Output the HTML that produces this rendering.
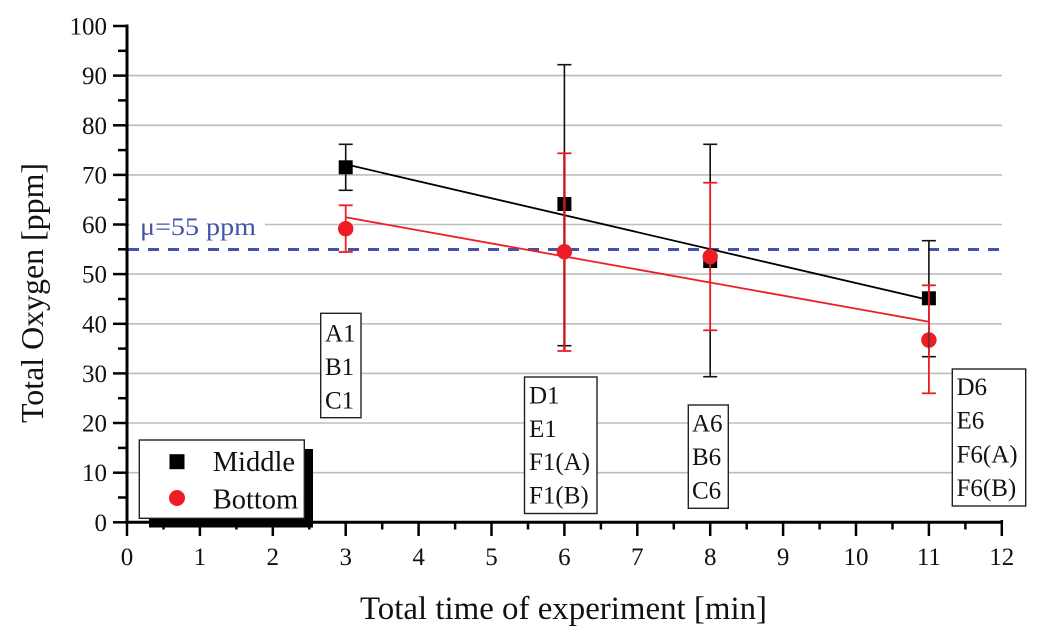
<!DOCTYPE html>
<html>
<head>
<meta charset="utf-8">
<style>
  html, body { margin:0; padding:0; background:#fff; }
  svg { display:block; }
  text { font-family: "Liberation Serif", "DejaVu Serif", serif; fill:#111; }
</style>
</head>
<body>
<svg width="1047" height="631" viewBox="0 0 1047 631" xmlns="http://www.w3.org/2000/svg">
  <rect x="0" y="0" width="1047" height="631" fill="#fff"/>

  <!-- gridlines -->
  <g stroke="#bdbdbd" stroke-width="1.6">
    <line x1="127" y1="472.7" x2="1002" y2="472.7"/>
    <line x1="127" y1="423.0" x2="1002" y2="423.0"/>
    <line x1="127" y1="373.4" x2="1002" y2="373.4"/>
    <line x1="127" y1="323.8" x2="1002" y2="323.8"/>
    <line x1="127" y1="274.1" x2="1002" y2="274.1"/>
    <line x1="127" y1="224.5" x2="1002" y2="224.5"/>
    <line x1="127" y1="174.9" x2="1002" y2="174.9"/>
    <line x1="127" y1="125.3" x2="1002" y2="125.3"/>
    <line x1="127" y1="75.6" x2="1002" y2="75.6"/>
  </g>

  <!-- mu label with white background -->
  <rect x="130" y="212" width="135" height="30" fill="#fff"/>
  <text x="140" y="235" font-size="25" textLength="116" lengthAdjust="spacingAndGlyphs" style="fill:#4352ad">μ=55 ppm</text>

  <!-- dashed mean line -->
  <line x1="128" y1="249.5" x2="1006" y2="249.5" stroke="#4352ad" stroke-width="3" stroke-dasharray="11 9"/>

  <!-- fit lines -->
  <line x1="345.7" y1="164.3" x2="928.9" y2="300" stroke="#000" stroke-width="1.8"/>
  <line x1="345.7" y1="217.3" x2="928.9" y2="321.7" stroke="#ee1c24" stroke-width="1.8"/>

  <!-- black error bars -->
  <g stroke="#111" stroke-width="1.6">
    <line x1="345.7" y1="144.3" x2="345.7" y2="190.3"/>
    <line x1="338.7" y1="144.3" x2="352.7" y2="144.3"/>
    <line x1="338.7" y1="190.3" x2="352.7" y2="190.3"/>

    <line x1="564.4" y1="64.7" x2="564.4" y2="345.7"/>
    <line x1="557.4" y1="64.7" x2="571.4" y2="64.7"/>
    <line x1="557.4" y1="345.7" x2="571.4" y2="345.7"/>

    <line x1="710.2" y1="144.3" x2="710.2" y2="376.7"/>
    <line x1="703.2" y1="144.3" x2="717.2" y2="144.3"/>
    <line x1="703.2" y1="376.7" x2="717.2" y2="376.7"/>

    <line x1="928.9" y1="240.7" x2="928.9" y2="356.7"/>
    <line x1="921.9" y1="240.7" x2="935.9" y2="240.7"/>
    <line x1="921.9" y1="356.7" x2="935.9" y2="356.7"/>
  </g>

  <!-- black squares -->
  <g fill="#000">
    <rect x="338.7" y="160.3" width="14" height="14"/>
    <rect x="557.4" y="197" width="14" height="14"/>
    <rect x="703.2" y="254" width="14" height="14"/>
    <rect x="921.9" y="291.3" width="14" height="14"/>
  </g>

  <!-- red error bars -->
  <g stroke="#ee1c24" stroke-width="1.8">
    <line x1="345.7" y1="205.3" x2="345.7" y2="252"/>
    <line x1="338.7" y1="205.3" x2="352.7" y2="205.3"/>
    <line x1="338.7" y1="252" x2="352.7" y2="252"/>

    <line x1="564.4" y1="153.3" x2="564.4" y2="351" stroke="#c41a1f" stroke-width="2.4"/>
    <line x1="557.4" y1="153.3" x2="571.4" y2="153.3"/>
    <line x1="557.4" y1="351" x2="571.4" y2="351"/>

    <line x1="710.2" y1="182.7" x2="710.2" y2="330.3"/>
    <line x1="703.2" y1="182.7" x2="717.2" y2="182.7"/>
    <line x1="703.2" y1="330.3" x2="717.2" y2="330.3"/>

    <line x1="928.9" y1="285.3" x2="928.9" y2="393.3"/>
    <line x1="921.9" y1="285.3" x2="935.9" y2="285.3"/>
    <line x1="921.9" y1="393.3" x2="935.9" y2="393.3"/>
  </g>

  <!-- red circles -->
  <g fill="#ee1c24">
    <circle cx="345.7" cy="228.7" r="7.7"/>
    <circle cx="564.4" cy="251.7" r="7.7"/>
    <circle cx="710.2" cy="256.7" r="7.7"/>
    <circle cx="928.9" cy="340" r="7.7"/>
  </g>
  <line x1="928.9" y1="332" x2="928.9" y2="348" stroke="#333" stroke-width="1.2"/>

  <!-- annotation boxes -->
  <g fill="#fff" stroke="#222" stroke-width="1.4">
    <rect x="320.7" y="313.3" width="40.3" height="104.4"/>
    <rect x="524.5" y="377" width="72.5" height="136.5"/>
    <rect x="688.3" y="405" width="40" height="103.3"/>
    <rect x="952.3" y="369" width="73.4" height="137"/>
  </g>
  <g font-size="25">
    <text x="325" y="341.7">A1</text>
    <text x="325" y="375">B1</text>
    <text x="325" y="408.3">C1</text>

    <text x="529" y="403.5">D1</text>
    <text x="529" y="436.8">E1</text>
    <text x="529" y="470.1">F1(A)</text>
    <text x="529" y="503.4">F1(B)</text>

    <text x="692" y="431.7">A6</text>
    <text x="692" y="465">B6</text>
    <text x="692" y="498.3">C6</text>

    <text x="956.5" y="395">D6</text>
    <text x="956.5" y="428.7">E6</text>
    <text x="956.5" y="462.4">F6(A)</text>
    <text x="956.5" y="496.1">F6(B)</text>
  </g>

  <!-- legend -->
  <rect x="149" y="449" width="164" height="78.5" fill="#000"/>
  <rect x="139.3" y="440" width="165" height="78.3" fill="#fff" stroke="#222" stroke-width="1.4"/>
  <rect x="169.5" y="454.2" width="15" height="15" fill="#000"/>
  <circle cx="177" cy="498" r="8" fill="#ee1c24"/>
  <text x="212.7" y="471" font-size="28.5">Middle</text>
  <text x="212.7" y="508.3" font-size="28.5">Bottom</text>

  <!-- axes -->
  <g stroke="#000" stroke-width="3">
    <line x1="127" y1="24.5" x2="127" y2="523.5"/>
    <line x1="125.5" y1="522.3" x2="1003" y2="522.3"/>
  </g>
  <!-- y ticks -->
  <g stroke="#000" stroke-width="2.5">
    <line x1="113" y1="522.3" x2="127" y2="522.3"/>
    <line x1="113" y1="472.7" x2="127" y2="472.7"/>
    <line x1="113" y1="423.0" x2="127" y2="423.0"/>
    <line x1="113" y1="373.4" x2="127" y2="373.4"/>
    <line x1="113" y1="323.8" x2="127" y2="323.8"/>
    <line x1="113" y1="274.1" x2="127" y2="274.1"/>
    <line x1="113" y1="224.5" x2="127" y2="224.5"/>
    <line x1="113" y1="174.9" x2="127" y2="174.9"/>
    <line x1="113" y1="125.3" x2="127" y2="125.3"/>
    <line x1="113" y1="75.6" x2="127" y2="75.6"/>
    <line x1="113" y1="26.0" x2="127" y2="26.0"/>
    <line x1="118" y1="497.5" x2="127" y2="497.5"/>
    <line x1="118" y1="447.9" x2="127" y2="447.9"/>
    <line x1="118" y1="398.2" x2="127" y2="398.2"/>
    <line x1="118" y1="348.6" x2="127" y2="348.6"/>
    <line x1="118" y1="299.0" x2="127" y2="299.0"/>
    <line x1="118" y1="249.3" x2="127" y2="249.3"/>
    <line x1="118" y1="199.7" x2="127" y2="199.7"/>
    <line x1="118" y1="150.1" x2="127" y2="150.1"/>
    <line x1="118" y1="100.4" x2="127" y2="100.4"/>
    <line x1="118" y1="50.8" x2="127" y2="50.8"/>
  </g>
  <!-- x ticks -->
  <g stroke="#000" stroke-width="2.5">
    <line x1="127" y1="522" x2="127" y2="536"/>
    <line x1="199.9" y1="522" x2="199.9" y2="536"/>
    <line x1="272.8" y1="522" x2="272.8" y2="536"/>
    <line x1="345.7" y1="522" x2="345.7" y2="536"/>
    <line x1="418.6" y1="522" x2="418.6" y2="536"/>
    <line x1="491.5" y1="522" x2="491.5" y2="536"/>
    <line x1="564.4" y1="522" x2="564.4" y2="536"/>
    <line x1="637.3" y1="522" x2="637.3" y2="536"/>
    <line x1="710.2" y1="522" x2="710.2" y2="536"/>
    <line x1="783.1" y1="522" x2="783.1" y2="536"/>
    <line x1="856" y1="522" x2="856" y2="536"/>
    <line x1="928.9" y1="522" x2="928.9" y2="536"/>
    <line x1="1001.8" y1="520" x2="1001.8" y2="536"/>
    <line x1="163.5" y1="522" x2="163.5" y2="529.5"/>
    <line x1="236.4" y1="522" x2="236.4" y2="529.5"/>
    <line x1="309.3" y1="522" x2="309.3" y2="529.5"/>
    <line x1="382.2" y1="522" x2="382.2" y2="529.5"/>
    <line x1="455.1" y1="522" x2="455.1" y2="529.5"/>
    <line x1="528" y1="522" x2="528" y2="529.5"/>
    <line x1="600.9" y1="522" x2="600.9" y2="529.5"/>
    <line x1="673.8" y1="522" x2="673.8" y2="529.5"/>
    <line x1="746.7" y1="522" x2="746.7" y2="529.5"/>
    <line x1="819.6" y1="522" x2="819.6" y2="529.5"/>
    <line x1="892.5" y1="522" x2="892.5" y2="529.5"/>
    <line x1="965.4" y1="522" x2="965.4" y2="529.5"/>
  </g>

  <!-- y tick labels -->
  <g font-size="25" text-anchor="end">
    <text x="107" y="530.8">0</text>
    <text x="107" y="481.2">10</text>
    <text x="107" y="431.5">20</text>
    <text x="107" y="381.9">30</text>
    <text x="107" y="332.3">40</text>
    <text x="107" y="282.6">50</text>
    <text x="107" y="233">60</text>
    <text x="107" y="183.4">70</text>
    <text x="107" y="133.8">80</text>
    <text x="107" y="84.1">90</text>
    <text x="107" y="34.5">100</text>
  </g>
  <!-- x tick labels -->
  <g font-size="25" text-anchor="middle">
    <text x="127" y="565">0</text>
    <text x="199.9" y="565">1</text>
    <text x="272.8" y="565">2</text>
    <text x="345.7" y="565">3</text>
    <text x="418.6" y="565">4</text>
    <text x="491.5" y="565">5</text>
    <text x="564.4" y="565">6</text>
    <text x="637.3" y="565">7</text>
    <text x="710.2" y="565">8</text>
    <text x="783.1" y="565">9</text>
    <text x="856" y="565">10</text>
    <text x="928.9" y="565">11</text>
    <text x="1001.8" y="565">12</text>
  </g>

  <!-- axis titles -->
  <text x="360" y="619" font-size="33" textLength="407" lengthAdjust="spacingAndGlyphs">Total time of experiment [min]</text>
  <text transform="translate(43,423) rotate(-90)" x="0" y="0" font-size="32" textLength="260" lengthAdjust="spacingAndGlyphs">Total Oxygen [ppm]</text>
</svg>
</body>
</html>
